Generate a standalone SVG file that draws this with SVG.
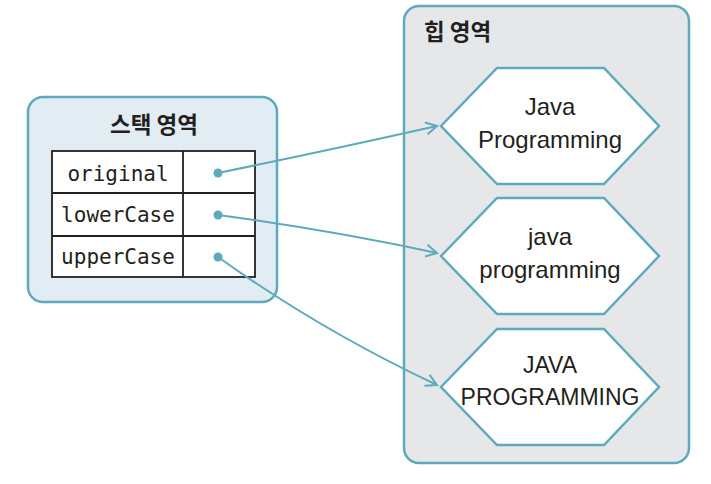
<svg xmlns="http://www.w3.org/2000/svg" width="711" height="484" viewBox="0 0 711 484">
<defs>
<style>
.box{stroke:#5eaabc;stroke-width:2.5}
.hex{fill:#ffffff;stroke:#5eaabc;stroke-width:2.5;stroke-linejoin:miter}
.title{font-family:"Noto Sans CJK KR","Noto Sans",sans-serif;font-weight:bold;font-size:22.5px;fill:#231f20}
.mono{font-family:"DejaVu Sans Mono","Liberation Mono",monospace;font-size:21px;fill:#231f20;text-anchor:middle}
.val{font-family:"Liberation Sans",Arial,sans-serif;font-size:24px;fill:#231f20;text-anchor:middle}
.caps{font-size:23px}
.cell{fill:#ffffff;stroke:#231f20;stroke-width:1.8}
.conn{fill:none;stroke:#5eaabc;stroke-width:2}
.dot{fill:#5eaabc}
</style>
<marker id="arr" viewBox="0 0 14 14" refX="12" refY="7" markerWidth="14" markerHeight="14" markerUnits="userSpaceOnUse" orient="auto">
<path d="M1,1 L12,7 L1,13" fill="none" stroke="#5eaabc" stroke-width="2"/>
</marker>
</defs>
<rect width="711" height="484" fill="#ffffff"/>
<g id="stack">
<rect class="box" x="28" y="97" width="249" height="205" rx="15" fill="#e1edf2"/>
<text class="title" x="154" y="133" text-anchor="middle">스택 영역</text>
<rect class="cell" x="52" y="151" width="203" height="126"/>
<line x1="52" y1="193" x2="255" y2="193" stroke="#231f20" stroke-width="1.8"/>
<line x1="52" y1="236" x2="255" y2="236" stroke="#231f20" stroke-width="1.8"/>
<line x1="183" y1="151" x2="183" y2="277" stroke="#231f20" stroke-width="1.8"/>
<text class="mono" x="118" y="181">original</text>
<text class="mono" x="118" y="222">lowerCase</text>
<text class="mono" x="118" y="264">upperCase</text>
<circle class="dot" cx="218" cy="173" r="4.5"/>
<circle class="dot" cx="218" cy="215" r="4.5"/>
<circle class="dot" cx="218" cy="257" r="4.5"/>
</g>
<g id="heap">
<rect class="box" x="404" y="6" width="285" height="457" rx="15" fill="#e6e7e9"/>
<text class="title" x="424" y="40">힙 영역</text>
</g>
<g id="node1">
<polygon class="hex" points="441,126 497,68 604,68 659,126 604,184 497,184"/>
<text class="val" x="550" y="115">Java</text>
<text class="val" x="550" y="148">Programming</text>
</g>
<g id="node2">
<polygon class="hex" points="441,256 497,198 604,198 659,256 604,314 497,314"/>
<text class="val" x="550" y="245">java</text>
<text class="val" x="550" y="278">programming</text>
</g>
<g id="node3">
<polygon class="hex" points="441,387 497,329 604,329 659,387 604,445 497,445"/>
<text class="val caps" x="550" y="373">JAVA</text>
<text class="val caps" x="550" y="405">PROGRAMMING</text>
</g>
<g id="connectors">
<path class="conn" d="M218,173 Q330,150 437,126" marker-end="url(#arr)"/>
<path class="conn" d="M218,215 Q330,230 437,253" marker-end="url(#arr)"/>
<path class="conn" d="M218,257 Q320,330 437,385" marker-end="url(#arr)"/>
</g>
</svg>
